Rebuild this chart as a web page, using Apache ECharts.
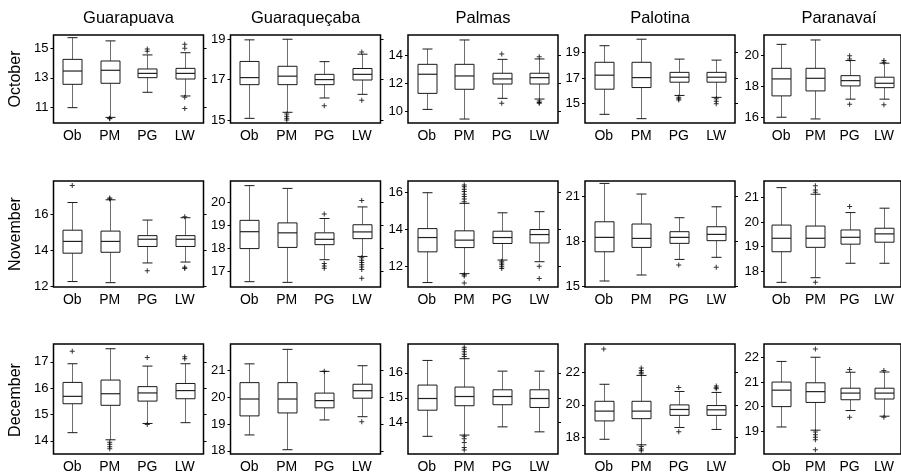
<!DOCTYPE html>
<html><head><meta charset="utf-8">
<script src="https://cdn.jsdelivr.net/npm/echarts@6/dist/echarts.min.js"></script>
<style>html,body{margin:0;padding:0;background:#fff}#c{width:901px;height:474px}</style>
</head><body><div id="c"></div><script>
const stations = ['Guarapuava', 'Guaraqueçaba', 'Palmas', 'Palotina', 'Paranavaí'];
const months = ['October', 'November', 'December'];
const categories = ['Ob', 'PM', 'PG', 'LW'];

// each station: 4 boxes (Ob, PM, PG, LW) as [min, Q1, median, Q3, max]
const octBoxes = [
  [[10.98,12.56,13.46,14.25,15.72],[10.32,12.63,13.51,14.14,15.5],[12.02,13.01,13.3,13.6,14.55],[11.77,12.92,13.3,13.64,14.7]],
  [[15.08,16.75,17.1,17.9,18.97],[15.38,16.75,17.17,17.66,19.0],[16.09,16.75,17.0,17.26,17.89],[16.27,16.98,17.26,17.55,18.26]],
  [[10.16,11.29,12.64,13.34,14.42],[9.48,11.58,12.52,13.34,15.06],[10.94,11.95,12.31,12.71,13.69],[10.89,11.95,12.4,12.71,13.72]],
  [[14.17,16.14,17.24,18.25,19.55],[13.83,16.27,17.05,18.25,20.06],[15.65,16.69,17.08,17.46,18.5],[15.5,16.69,17.08,17.46,18.42]],
  [[16.0,17.37,18.46,19.14,20.68],[15.89,17.69,18.5,19.14,20.96],[17.16,18.01,18.35,18.67,19.64],[17.16,17.9,18.18,18.57,19.47]]
];
const novBoxes = [
  [[12.28,13.85,14.5,15.12,16.65],[12.22,13.9,14.5,15.07,16.8],[13.31,14.22,14.62,14.82,15.68],[13.36,14.22,14.62,14.82,15.81]],
  [[16.57,18.0,18.73,19.22,20.72],[16.54,18.05,18.68,19.11,20.6],[17.52,18.17,18.4,18.68,19.3],[17.66,18.43,18.72,19.03,19.8]],
  [[11.15,12.8,13.57,14.05,15.98],[11.63,13.03,13.43,13.93,15.41],[12.36,13.25,13.57,13.91,14.9],[12.27,13.28,13.73,14.0,14.96]],
  [[15.38,17.33,18.29,19.33,21.89],[15.78,17.62,18.22,19.18,21.18],[16.82,17.89,18.29,18.67,19.6],[16.96,18.07,18.49,19.0,20.33]],
  [[17.54,18.79,19.34,19.88,21.41],[17.73,18.97,19.34,19.84,21.14],[18.32,19.1,19.38,19.68,20.39],[18.32,19.18,19.52,19.75,20.57]]
];
const decBoxes = [
  [[14.31,15.41,15.69,16.22,16.93],[14.04,15.35,15.79,16.31,17.5],[14.66,15.51,15.82,16.06,16.84],[14.69,15.6,15.91,16.18,16.93]],
  [[18.59,19.3,19.93,20.54,21.24],[18.04,19.41,19.93,20.54,21.78],[19.15,19.6,19.87,20.15,20.96],[19.27,19.96,20.24,20.48,21.17]],
  [[13.45,14.5,14.97,15.51,16.5],[13.5,14.68,15.05,15.43,16.57],[13.83,14.72,15.05,15.32,16.07],[13.63,14.61,14.97,15.32,16.07]],
  [[17.9,19.02,19.62,20.22,21.26],[17.56,19.16,19.62,20.22,21.8],[18.62,19.36,19.72,20.0,20.82],[18.5,19.36,19.7,19.96,20.76]],
  [[19.17,20.0,20.67,21.0,21.84],[19.04,20.17,20.61,20.97,22.01],[19.84,20.28,20.55,20.75,21.4],[19.61,20.31,20.55,20.75,21.41]]
];

// outliers per station, per box (Ob, PM, PG, LW)
const octOutliers = [
  [[], [10.26,10.22], [14.8,14.95], [15.27,15.0,11.68,10.93]],
  [[], [15.3,15.18,15.08,15.0], [15.71], [18.37,15.98]],
  [[], [], [14.07,10.59], [13.88,10.75,10.65,10.6]],
  [[], [], [15.5,15.4,15.3], [15.4,15.2,15.0]],
  [[], [], [19.94,19.74,16.84], [19.64,19.53,16.8]]
];
const novOutliers = [
  [[17.59], [16.9,16.85], [12.88], [15.87,13.07,13.0]],
  [[], [], [19.49,17.35,17.25,17.15], [20.08,17.6,17.5,17.4,17.3,17.2,17.1,16.72]],
  [[], [16.4,16.3,16.16,16.04,15.9,15.77,15.64,15.5,11.57,11.5,11.13], [12.3,12.2,12.1,12.0,11.9], [12.03,11.37]],
  [[], [], [16.44], [16.29]],
  [[], [21.49,21.31,21.22,17.54], [20.64], []]
];
const decOutliers = [
  [[17.4], [13.95,13.87,13.78,13.7], [17.17,14.62], [17.2,17.12]],
  [[], [], [20.96], [19.08]],
  [[], [17.03,16.95,16.85,16.75,16.66,13.45,13.35,13.2,13.0,12.9], [], []],
  [[23.42], [22.26,22.1,22.0,21.9,17.46,17.3,17.2], [21.06,18.36], [21.16,21.05,20.98]],
  [[], [22.35,18.97,18.85,18.75,18.65,18.24], [21.51,19.57], [21.47,19.57]]
];

// y-axis tick labels per station
const octTicks = [[11,13,15],[15,17,19],[10,12,14],[15,17,19],[16,18,20]];
const novTicks = [[12,14,16],[17,18,19,20],[12,14,16],[15,18,21],[18,19,20,21]];
const decTicks = [[14,15,16,17],[18,19,20,21],[14,15,16],[18,20,22],[19,20,21,22]];

// y-axis extents per station
const octRanges = [[9.94,15.9],[14.85,19.21],[9.2,15.41],[13.49,20.39],[15.63,21.28]];
const novRanges = [[11.98,17.84],[16.34,20.92],[10.91,16.61],[14.98,22.05],[17.35,21.68]];
const decRanges = [[13.5,17.68],[17.88,21.98],[12.74,17.16],[17.0,23.72],[18.07,22.55]];

// ---------- layout ----------
const colLeft = [53.5, 230.5, 408, 585, 764];
const colWidth = 150;
const rowTop = [35, 181, 344];
const rowBottom = [123, 287, 456];
const FONT = 'Liberation Sans, Arial, sans-serif';

const allBoxes = [octBoxes, novBoxes, decBoxes];
const allOut = [octOutliers, novOutliers, decOutliers];
const allTicks = [octTicks, novTicks, decTicks];
const allRanges = [octRanges, novRanges, decRanges];

const grids = [], xAxes = [], yAxes = [], series = [], graphics = [];

const plusPath = 'path://M4,0L6,0L6,4L10,4L10,6L6,6L6,10L4,10L4,6L0,6L0,4L4,4Z';

function renderBox(params, api) {
  const x = api.value(0);
  const pMin = api.coord([x, api.value(1)]);
  const pQ1 = api.coord([x, api.value(2)]);
  const pMed = api.coord([x, api.value(3)]);
  const pQ3 = api.coord([x, api.value(4)]);
  const pMax = api.coord([x, api.value(5)]);
  const cx = Math.round(pMed[0]) + 0.5;
  const bw = 19, cw = 10;
  const whisk = {stroke: '#6e6e6e', lineWidth: 1};
  const dark = {stroke: '#1a1a1a', lineWidth: 1};
  return {type: 'group', children: [
    {type: 'line', shape: {x1: cx, y1: pMax[1], x2: cx, y2: pQ3[1]}, style: whisk},
    {type: 'line', shape: {x1: cx, y1: pQ1[1], x2: cx, y2: pMin[1]}, style: whisk},
    {type: 'line', shape: {x1: cx - cw / 2, y1: pMax[1], x2: cx + cw / 2, y2: pMax[1]}, style: dark},
    {type: 'line', shape: {x1: cx - cw / 2, y1: pMin[1], x2: cx + cw / 2, y2: pMin[1]}, style: dark},
    {type: 'rect', shape: {x: cx - bw / 2, y: pQ3[1], width: bw, height: pQ1[1] - pQ3[1]},
      style: {fill: '#fff', stroke: '#1a1a1a', lineWidth: 1}},
    {type: 'line', shape: {x1: cx - bw / 2, y1: pMed[1], x2: cx + bw / 2, y2: pMed[1]}, style: {stroke: '#222', lineWidth: 1.2}}
  ]};
}

for (let r = 0; r < 3; r++) {
  for (let c = 0; c < 5; c++) {
    const gi = r * 5 + c;
    grids.push({left: colLeft[c], top: rowTop[r], width: colWidth, height: rowBottom[r] - rowTop[r],
      show: true, borderColor: '#000', borderWidth: 1.5, backgroundColor: 'transparent'});
    xAxes.push({gridIndex: gi, type: 'category', data: categories, boundaryGap: true,
      axisLine: {show: false}, axisTick: {show: false}, splitLine: {show: false},
      axisLabel: {fontSize: 14, color: '#000', margin: 6, fontFamily: FONT}});
    const ticks = allTicks[r][c], rng = allRanges[r][c];
    yAxes.push({gridIndex: gi, type: 'value', position: 'left', min: rng[0], max: rng[1],
      axisLine: {show: false}, splitLine: {show: false},
      axisTick: {show: true, length: 3, customValues: ticks, lineStyle: {color: '#000'}},
      axisLabel: {customValues: ticks, fontSize: 13, color: '#000', margin: 5, fontFamily: FONT}});
    yAxes.push({gridIndex: gi, type: 'value', position: 'right', min: rng[0], max: rng[1],
      axisLine: {show: false}, splitLine: {show: false},
      axisTick: {show: true, length: 3, customValues: ticks, lineStyle: {color: '#000'}},
      axisLabel: {show: false}});
    const boxes = allBoxes[r][c];
    series.push({type: 'custom', xAxisIndex: gi, yAxisIndex: gi * 2, renderItem: renderBox,
      silent: true, animation: false,
      data: boxes.map((b, k) => [k].concat(b))});
    const outs = [];
    allOut[r][c].forEach((arr, k) => arr.forEach(v => outs.push([k, v])));
    series.push({type: 'scatter', xAxisIndex: gi, yAxisIndex: gi * 2, data: outs,
      symbol: plusPath, symbolSize: 5, itemStyle: {color: '#000'}, silent: true, animation: false});
  }
}

stations.forEach((s, c) => {
  graphics.push({type: 'text', x: colLeft[c] + colWidth / 2, y: 18,
    style: {text: s, font: '16.5px ' + FONT, fill: '#000', textAlign: 'center', textVerticalAlign: 'middle'}});
});
months.forEach((m, r) => {
  graphics.push({type: 'text', x: 16, y: (rowTop[r] + rowBottom[r]) / 2, rotation: Math.PI / 2,
    style: {text: m, font: '16px ' + FONT, fill: '#000', textAlign: 'center', textVerticalAlign: 'middle'}});
});

const chart = echarts.init(document.getElementById('c'), null, {renderer: 'canvas'});
chart.setOption({
  animation: false,
  grid: grids, xAxis: xAxes, yAxis: yAxes, series: series, graphic: graphics
});
</script></body></html>
